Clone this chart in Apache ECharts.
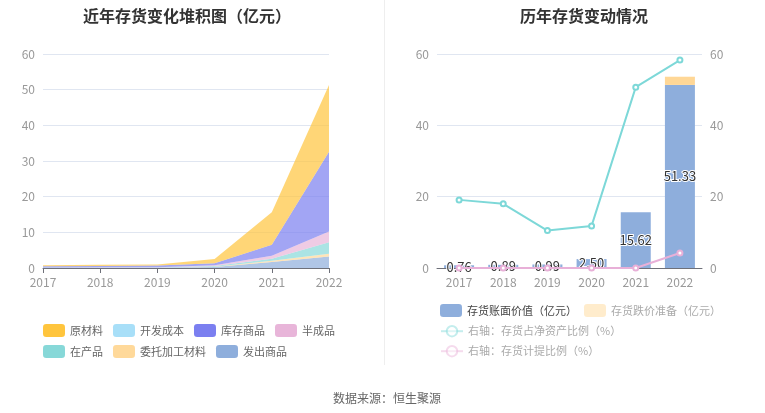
<!DOCTYPE html>
<html>
<head>
<meta charset="utf-8">
<script src="https://cdn.jsdelivr.net/npm/echarts@6/dist/echarts.min.js"></script>
<style>html,body{margin:0;padding:0;background:#fff;}#c{width:765px;height:413px;}</style>
</head>
<body>
<div id="c"></div>
<script>
var years = ['2017', '2018', '2019', '2020', '2021', '2022'];
// stacked components (亿元)
var faChu = [0.10, 0.10, 0.10, 0.30, 1.70, 3.25];      // 发出商品
var weiTuo = [0.00, 0.00, 0.00, 0.05, 0.35, 0.75];     // 委托加工材料
var zaiChan = [0.03, 0.04, 0.05, 0.20, 0.55, 3.20];    // 在产品
var banCheng = [0.03, 0.05, 0.09, 0.20, 0.85, 3.05];   // 半成品
var kuCun = [0.30, 0.40, 0.45, 0.60, 3.10, 22.35];     // 库存商品
var kaiFa = [0, 0, 0, 0, 0, 0];                        // 开发成本
var yuanCai = [0.30, 0.30, 0.30, 1.15, 9.07, 18.73];   // 原材料
// right chart
var bookValue = [0.76, 0.89, 0.99, 2.50, 15.62, 51.33]; // 存货账面价值
var impairment = [0, 0, 0, 0, 0, 2.3];                  // 存货跌价准备
var ratioNetAsset = [19.1, 18.0, 10.5, 11.8, 50.7, 58.3]; // 存货占净资产比例
var ratioProvision = [0, 0, 0, 0, 0, 4.2];              // 存货计提比例
var yTicksLeft = [0, 10, 20, 30, 40, 50, 60];

var chart = echarts.init(document.getElementById('c'));
var font = 'Noto Sans CJK SC';
var axisLabelStyle = {color: '#999', fontSize: 12, fontFamily: font};

function areaSeries(name, data, color) {
  return {
    name: name, type: 'line', stack: 'inv', data: data,
    xAxisIndex: 0, yAxisIndex: 0,
    symbol: 'none', lineStyle: {width: 0}, itemStyle: {color: color},
    areaStyle: {color: color, opacity: 0.7}
  };
}

var option = {
  animation: false,
  textStyle: {fontFamily: font},
  title: [
    {text: '近年存货变化堆积图（亿元）', left: 182, top: 3, textAlign: 'center',
     textStyle: {fontSize: 16, fontWeight: 'bold', color: '#333', fontFamily: font}},
    {text: '历年存货变动情况', left: 579, top: 3, textAlign: 'center',
     textStyle: {fontSize: 16, fontWeight: 'bold', color: '#333', fontFamily: font}},
    {text: '数据来源：恒生聚源', left: 382, top: 387, textAlign: 'center',
     textStyle: {fontSize: 12, fontWeight: 'normal', color: '#666', fontFamily: font}}
  ],
  graphic: [
    {type: 'line', shape: {x1: 384.5, y1: 0, x2: 384.5, y2: 365}, style: {stroke: '#eeeeee', lineWidth: 1}}
  ],
  legend: [
    {data: ['原材料', '开发成本', '库存商品', '半成品'], left: 43, top: 324, padding: 0, icon: 'roundRect',
     itemWidth: 22, itemHeight: 13, itemGap: 10, textStyle: {fontSize: 11, color: '#666', fontFamily: font}},
    {data: ['在产品', '委托加工材料', '发出商品'], left: 43, top: 345, padding: 0, icon: 'roundRect',
     itemWidth: 22, itemHeight: 13, itemGap: 10, textStyle: {fontSize: 11, color: '#666', fontFamily: font}},
    {data: [
       {name: '存货账面价值（亿元）', textStyle: {color: '#444'}},
       {name: '存货跌价准备（亿元）', itemStyle: {color: '#ffeccc'}, textStyle: {color: '#aaa'}}
     ], left: 440, top: 304, padding: 0, icon: 'roundRect',
     itemWidth: 22, itemHeight: 13, itemGap: 7, textStyle: {fontSize: 11, fontFamily: font}},
    {data: ['右轴：存货占净资产比例（%）'],
     left: 440, top: 325, padding: 0, itemStyle: {opacity: 0.45}, lineStyle: {opacity: 0.45},
     itemWidth: 22, itemHeight: 13, textStyle: {fontSize: 11, color: '#aaa', fontFamily: font}},
    {data: ['右轴：存货计提比例（%）'],
     left: 440, top: 345, padding: 0, itemStyle: {opacity: 0.45}, lineStyle: {opacity: 0.45},
     itemWidth: 22, itemHeight: 13, textStyle: {fontSize: 11, color: '#aaa', fontFamily: font}}
  ],
  grid: [
    {left: 43, right: 436, top: 54, bottom: 145},
    {left: 437, right: 63, top: 54, bottom: 145}
  ],
  xAxis: [
    {type: 'category', gridIndex: 0, data: years, boundaryGap: false,
     axisLine: {lineStyle: {color: '#6e7079'}}, axisTick: {show: true},
     axisLabel: axisLabelStyle},
    {type: 'category', gridIndex: 1, data: years,
     axisLine: {lineStyle: {color: '#6e7079'}}, axisTick: {show: false},
     axisLabel: axisLabelStyle}
  ],
  yAxis: [
    {type: 'value', gridIndex: 0, min: yTicksLeft[0], max: yTicksLeft[yTicksLeft.length - 1], interval: 10,
     axisLabel: axisLabelStyle, splitLine: {lineStyle: {color: '#e0e6f1'}}},
    {type: 'value', gridIndex: 1, min: 0, max: 60, interval: 20,
     axisLabel: axisLabelStyle, splitLine: {lineStyle: {color: '#e0e6f1'}}},
    {type: 'value', gridIndex: 1, min: 0, max: 60, interval: 20, position: 'right',
     axisLabel: axisLabelStyle, splitLine: {show: false}}
  ],
  series: [
    areaSeries('发出商品', faChu, '#8eaedc'),
    areaSeries('委托加工材料', weiTuo, '#ffd99a'),
    areaSeries('在产品', zaiChan, '#87d8d8'),
    areaSeries('半成品', banCheng, '#e8b5d9'),
    areaSeries('库存商品', kuCun, '#7b7ff0'),
    areaSeries('开发成本', kaiFa, '#a8dff8'),
    areaSeries('原材料', yuanCai, '#ffc53d'),
    {name: '存货账面价值（亿元）', type: 'bar', stack: 'bar', xAxisIndex: 1, yAxisIndex: 1,
     data: bookValue, barWidth: 30, itemStyle: {color: '#8eaedc'},
     label: {show: true, position: 'inside', color: '#333', fontSize: 13,
             textBorderColor: '#fff', textBorderWidth: 2, fontFamily: font,
             formatter: function (p) { return p.value.toFixed(2); }}},
    {name: '存货跌价准备（亿元）', type: 'bar', stack: 'bar', xAxisIndex: 1, yAxisIndex: 1,
     data: impairment, barWidth: 30, itemStyle: {color: '#ffd796'}},
    {name: '右轴：存货占净资产比例（%）', type: 'line', xAxisIndex: 1, yAxisIndex: 2,
     data: ratioNetAsset, symbol: 'emptyCircle', symbolSize: 5,
     lineStyle: {color: '#7dd8d8', width: 2}, itemStyle: {color: '#7dd8d8'}},
    {name: '右轴：存货计提比例（%）', type: 'line', xAxisIndex: 1, yAxisIndex: 2,
     data: ratioProvision, symbol: 'emptyCircle', symbolSize: 5,
     lineStyle: {color: '#e8b0d8', width: 2}, itemStyle: {color: '#e8b0d8'}}
  ]
};
chart.setOption(option);
</script>
</body>
</html>
